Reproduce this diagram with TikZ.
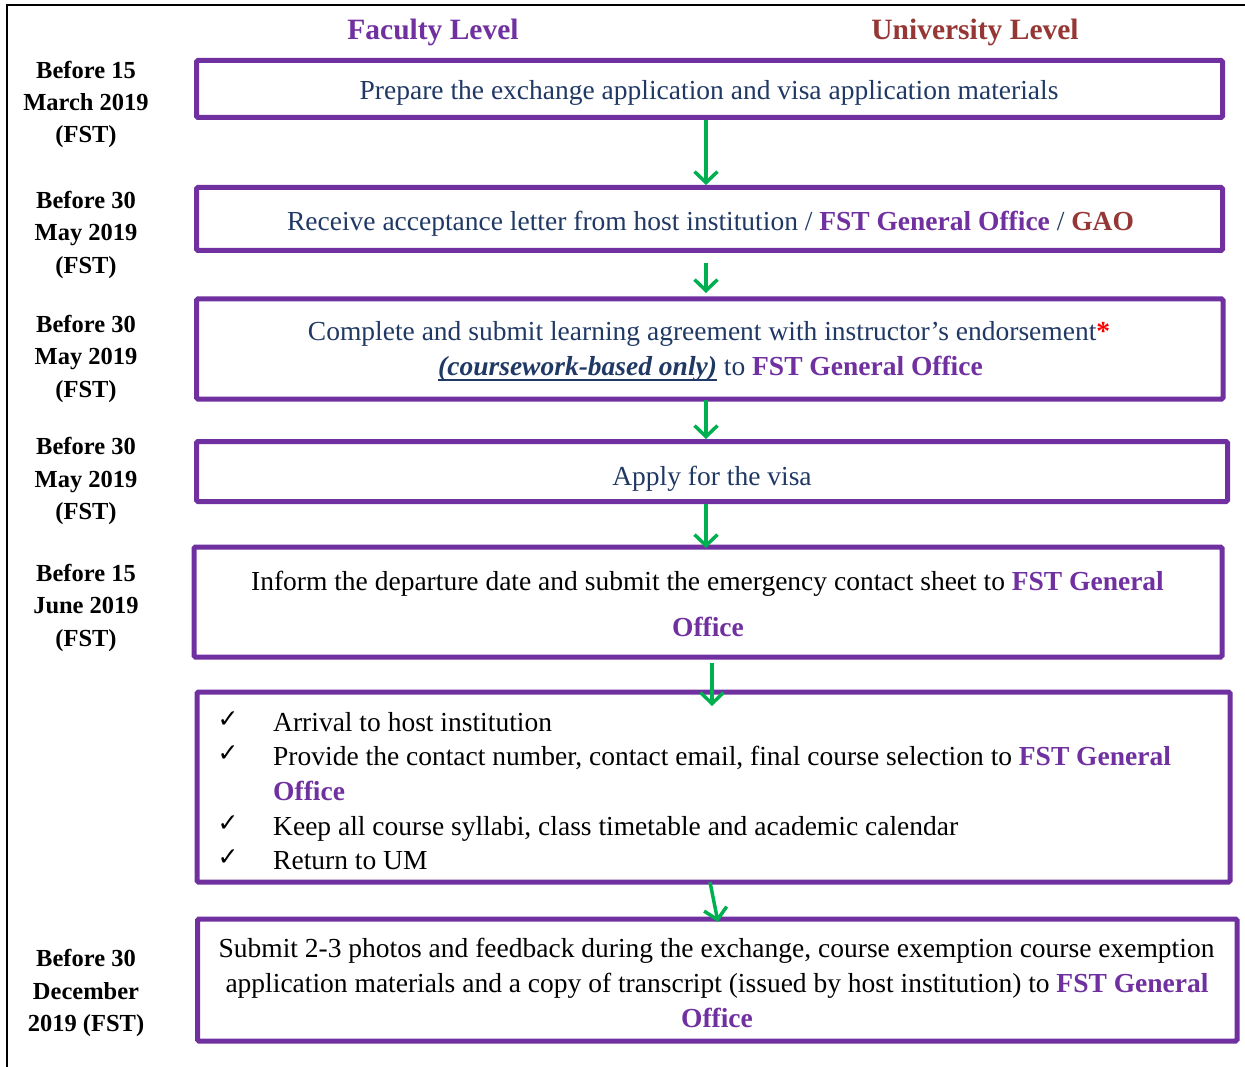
\documentclass[tikz,border=0pt]{standalone}
\usepackage{fontspec}
\setmainfont{Liberation Serif}
\newfontfamily\symfont{DejaVu Sans}
\usetikzlibrary{arrows.meta}
\definecolor{purp}{HTML}{7030A0}
\definecolor{navy}{HTML}{1F3864}
\definecolor{dred}{HTML}{953735}
\definecolor{grn}{HTML}{00B050}
\newcommand\fgo{\textcolor{purp}{\textbf{FST General Office}}}
\newcommand\myul[1]{\setbox0\hbox{#1}\rlap{\rule[-5.5pt]{\wd0}{1.8pt}}\box0\relax}
\begin{document}
\begin{tikzpicture}[x=1pt,y=-1pt,
  stepbox/.style={draw=purp, line width=5pt, rounded corners=1.5pt, inner sep=0pt},
  arr/.style={draw=grn, line width=3.5pt, -{Straight Barb[length=11pt,width=23pt]}},
  hdr/.style={anchor=base, inner sep=0pt, font=\fontsize{29.5}{34}\selectfont\bfseries},
  datelbl/.style={anchor=base, inner sep=0pt, font=\fontsize{24.5}{30}\selectfont\bfseries},
  txt/.style={anchor=base, inner sep=0pt, font=\fontsize{27.5}{33}\selectfont, text=navy},
  btxt/.style={anchor=base, inner sep=0pt, font=\fontsize{27.5}{33}\selectfont, text=black},
  ltxt/.style={anchor=base west, inner sep=0pt, font=\fontsize{27.5}{33}\selectfont, text=black},
  chk/.style={anchor=base, inner sep=0pt, font=\symfont\fontsize{25}{28}\selectfont}]
\useasboundingbox (0,0) rectangle (1245,1067);
\draw[line width=2pt] (7,1067) -- (7,5) -- (1245,5);

% headers
\node[hdr, text=purp] (hf) at (433,40) {Faculty Level};
\node[hdr, text=dred] (hu) at (975,40) {University Level};

% dates
\node[datelbl] (d1a) at (86,79) {Before 15};
\node[datelbl] (d1b) at (86,111) {March 2019};
\node[datelbl] (d1c) at (86,143) {(FST)};
\node[datelbl] (d2a) at (86,209) {Before 30};
\node[datelbl] (d2b) at (86,241) {May 2019};
\node[datelbl] (d2c) at (86,274) {(FST)};
\node[datelbl] (d3a) at (86,332) {Before 30};
\node[datelbl] (d3b) at (86,364) {May 2019};
\node[datelbl] (d3c) at (86,397) {(FST)};
\node[datelbl] (d4a) at (86,454) {Before 30};
\node[datelbl] (d4b) at (86,487) {May 2019};
\node[datelbl] (d4c) at (86,519) {(FST)};
\node[datelbl] (d5a) at (86,581) {Before 15};
\node[datelbl] (d5b) at (86,613) {June 2019};
\node[datelbl] (d5c) at (86,646) {(FST)};
\node[datelbl] (d7a) at (86,966) {Before 30};
\node[datelbl] (d7b) at (86,999) {December};
\node[datelbl] (d7c) at (86,1031) {2019 (FST)};

% boxes
\node[stepbox, minimum width=1026pt, minimum height=57pt] (b1) at (709.5,89) {};
\node[stepbox, minimum width=1026pt, minimum height=63pt] (b2) at (709.5,219) {};
\node[stepbox, minimum width=1026.5pt, minimum height=100pt] (b3) at (709.75,349) {};
\node[stepbox, minimum width=1031pt, minimum height=60pt] (b4) at (712,471.5) {};
\node[stepbox, minimum width=1028pt, minimum height=110pt] (b5) at (708,602) {};
\node[stepbox, minimum width=1033pt, minimum height=190pt] (b6) at (713.5,787) {};
\node[stepbox, minimum width=1039.5pt, minimum height=122pt] (b7) at (717.25,980) {};

% box texts
\node[txt] (t1) at (709,100) {Prepare the exchange application and visa application materials};
\node[txt] (t2) at (710.5,231) {Receive acceptance letter from host institution / \fgo{} / \textcolor{dred}{\textbf{GAO}}};
\node[txt] (t3a) at (709,341) {Complete and submit learning agreement with instructor’s endorsement\textcolor{red}{\textbf{*}}};
\node[txt] (t3b) at (710.5,375) {\myul{\textbf{\textit{(coursework-based only)}}} to \fgo};
\node[txt] (t4) at (712,485) {Apply for the visa};
\node[btxt] (t5a) at (707.5,590) {Inform the departure date and submit the emergency contact sheet to \textcolor{purp}{\textbf{FST General}}};
\node[btxt] (t5b) at (708,636) {\textcolor{purp}{\textbf{Office}}};

\node[chk] (c1) at (228,727) {✓};
\node[ltxt] (l1) at (273,731) {Arrival to host institution};
\node[chk] (c2) at (228,761.5) {✓};
\node[ltxt] (l2) at (273,765.5) {Provide the contact number, contact email, final course selection to \textcolor{purp}{\textbf{FST General}}};
\node[ltxt] (l2b) at (273,800) {\textcolor{purp}{\textbf{Office}}};
\node[chk] (c3) at (228,831) {✓};
\node[ltxt] (l3) at (273,835) {Keep all course syllabi, class timetable and academic calendar};
\node[chk] (c4) at (228,865.5) {✓};
\node[ltxt] (l4) at (273,869.5) {Return to UM};

\node[btxt] (t7a) at (716.5,957) {Submit 2-3 photos and feedback during the exchange, course exemption course exemption};
\node[btxt] (t7b) at (717,992) {application materials and a copy of transcript (issued by host institution) to \textcolor{purp}{\textbf{FST General}}};
\node[btxt] (t7c) at (717,1027) {\textcolor{purp}{\textbf{Office}}};

% arrows
\coordinate (xa) at (706,0);
\coordinate (xb) at (712,0);
\coordinate (xc) at (710,0);
\coordinate (xd) at (718,0);
\draw[arr] (b1.south -| xa) -- (b2.north -| xa);
\draw[arr] ([yshift=-10pt]b2.south -| xa) -- ([yshift=3.5pt]b3.north -| xa);
\draw[arr] ([yshift=2pt]b3.south -| xa) -- (b4.north -| xa);
\draw[arr] (b4.south -| xa) -- ([yshift=-3.5pt]b5.north -| xa);
\draw[arr] ([yshift=-3.5pt]b5.south -| xb) -- ([yshift=-16.5pt]b6.north -| xb);
\draw[arr] ([yshift=2.5pt]b6.south -| xc) -- ([yshift=-5.5pt]b7.north -| xd);
\end{tikzpicture}
\end{document}
